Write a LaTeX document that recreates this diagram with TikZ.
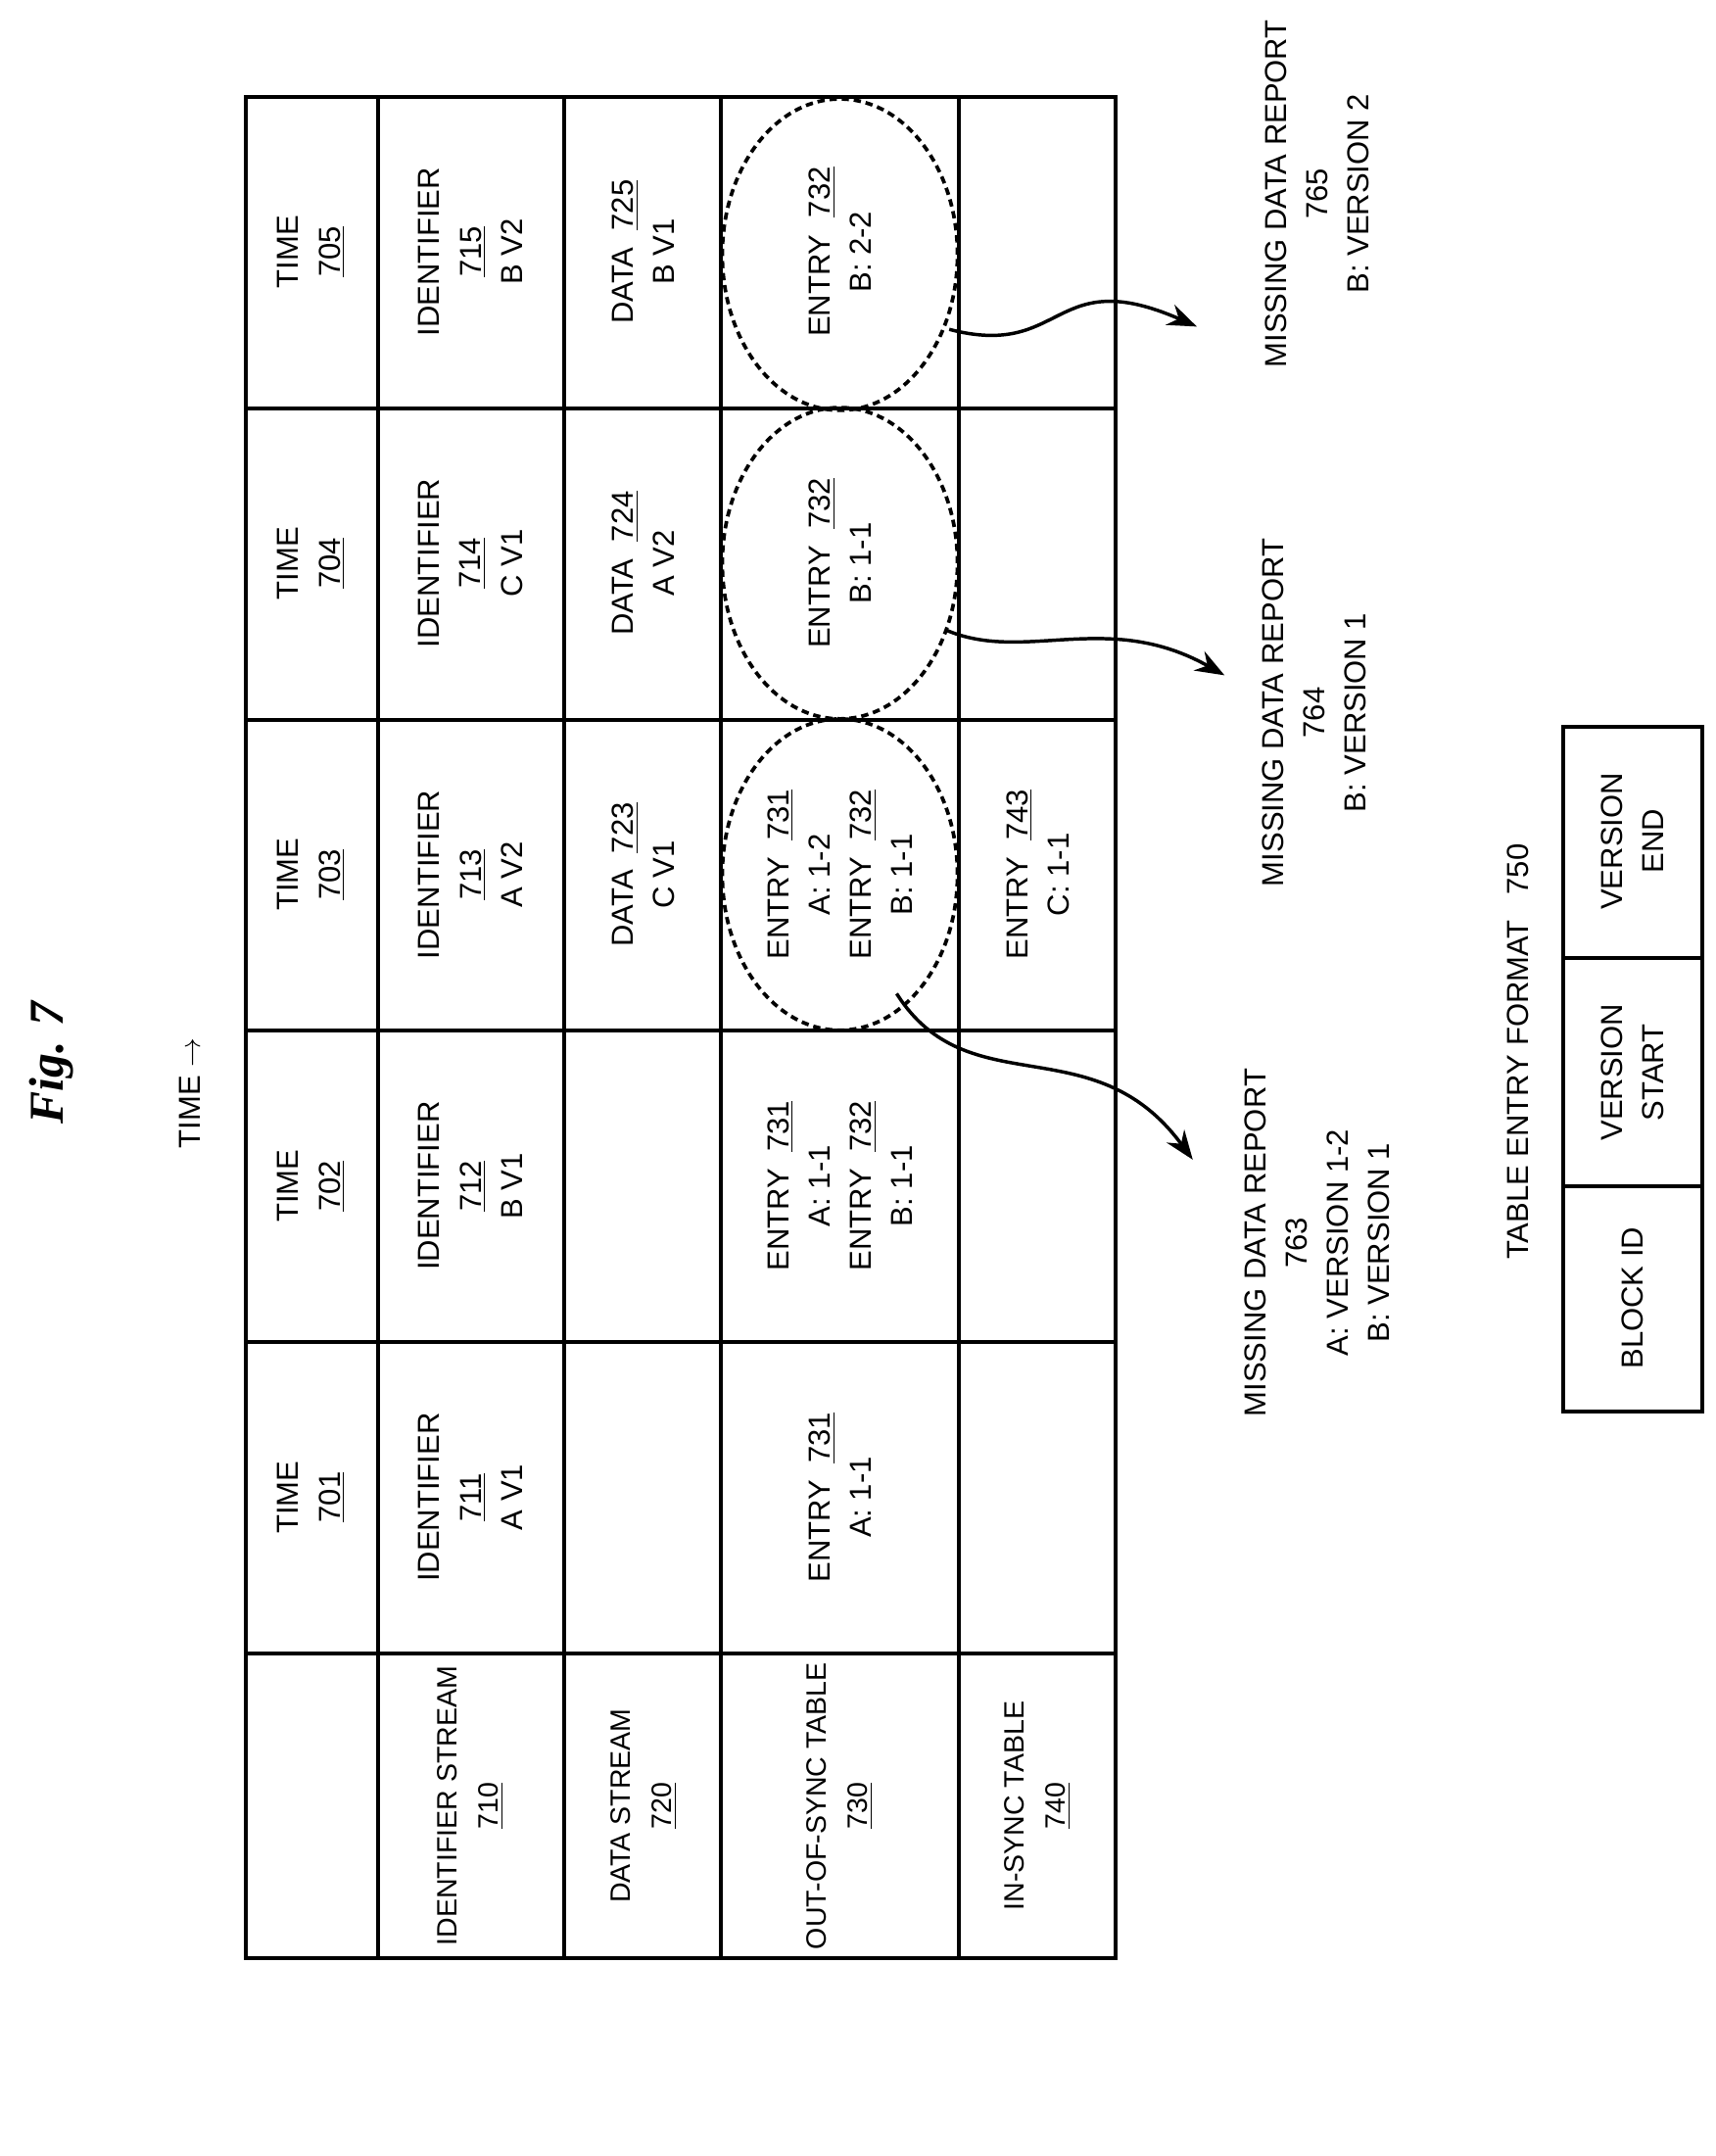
\documentclass[tikz,border=0pt]{standalone}
\usepackage{fontspec}
\setmainfont{Liberation Sans}
\newfontfamily\figfont{Liberation Serif}
\usetikzlibrary{arrows.meta,shapes.geometric}
\begin{document}
\begin{tikzpicture}[x=0.02cm,y=-0.02cm,
  t/.style={rotate=90,align=center,font=\fontsize{12.5}{17}\selectfont,inner sep=0pt},
  h/.style={t,font=\fontsize{11.5}{17}\selectfont},
  ln/.style={line width=1.6pt},
  el/.style={ellipse,draw,densely dashed,line width=1.5pt,minimum width=3.4cm,minimum height=4.5cm,inner sep=0pt},
  arr/.style={line width=1.4pt,-{Stealth[length=12pt,width=9pt]}}]
\useasboundingbox (0,0) rectangle (1240,1558);
% table
\draw[ln] (178,70) rectangle (806,1415);
\foreach \x in {273,408,521,693} \draw[ln] (\x,70) -- (\x,1415);
\foreach \y in {295,520,745,970,1195} \draw[ln] (178,\y) -- (806,\y);
% title
\node[rotate=90,font=\fontsize{20}{24}\selectfont\figfont\bfseries\itshape] (fig) at (37,768) {Fig. 7};
\node[t] (time) at (137,790) {TIME $\rightarrow$};
% time row
\node[t] (t5) at (225,182) {TIME\\\underline{705}};
\node[t] (t4) at (225,407) {TIME\\\underline{704}};
\node[t] (t3) at (225,632) {TIME\\\underline{703}};
\node[t] (t2) at (225,857) {TIME\\\underline{702}};
\node[t] (t1) at (225,1082) {TIME\\\underline{701}};
% identifier
\node[t] (i5) at (340,182) {IDENTIFIER\\\underline{715}\\B V2};
\node[t] (i4) at (340,407) {IDENTIFIER\\\underline{714}\\C V1};
\node[t] (i3) at (340,632) {IDENTIFIER\\\underline{713}\\A V2};
\node[t] (i2) at (340,857) {IDENTIFIER\\\underline{712}\\B V1};
\node[t] (i1) at (340,1082) {IDENTIFIER\\\underline{711}\\A V1};
\node[h] (ih) at (340,1305) {IDENTIFIER STREAM\\\underline{710}};
% data
\node[t] (d5) at (465,182) {DATA~~\underline{725}\\B V1};
\node[t] (d4) at (465,407) {DATA~~\underline{724}\\A V2};
\node[t] (d3) at (465,632) {DATA~~\underline{723}\\C V1};
\node[h] (dh) at (465,1305) {DATA STREAM\\\underline{720}};
% out of sync
\node[t] (o5) at (607,182) {ENTRY~~\underline{732}\\B: 2-2};
\node[t] (o4) at (607,407) {ENTRY~~\underline{732}\\B: 1-1};
\node[t] (o3) at (607,632) {ENTRY~~\underline{731}\\A: 1-2\\ENTRY~~\underline{732}\\B: 1-1};
\node[t] (o2) at (607,857) {ENTRY~~\underline{731}\\A: 1-1\\ENTRY~~\underline{732}\\B: 1-1};
\node[t] (o1) at (607,1082) {ENTRY~~\underline{731}\\A: 1-1};
\node[h] (oh) at (607,1305) {OUT-OF-SYNC TABLE\\\underline{730}};
% in sync
\node[t] (s3) at (750,632) {ENTRY~~\underline{743}\\C: 1-1};
\node[h] (sh) at (750,1305) {IN-SYNC TABLE\\\underline{740}};
% ellipses
\node[el] (e5) at (607,184) {};
\node[el] (e4) at (607,407) {};
\node[el] (e3) at (607,632) {};
% reports
\node[t] (r5) at (952,140) {MISSING DATA REPORT\\765\\B: VERSION 2};
\node[t] (r4) at (950,515) {MISSING DATA REPORT\\764\\B: VERSION 1};
\node[t] (r3) at (952,898) {MISSING DATA REPORT\\763\\A: VERSION 1-2\\B: VERSION 1};
\coordinate (a5) at (686,238);
\coordinate (a4) at (683,455);
\coordinate (a3) at (648,718);
\draw[arr] (a5) .. controls (770,260) and (760,190) .. (865,236);
\draw[arr] (a4) .. controls (740,480) and (800,440) .. (885,488);
\draw[arr] (a3) .. controls (700,800) and (790,740) .. (862,838);
% table entry format
\node[t] (tf) at (1097,760) {TABLE ENTRY FORMAT~~~750};
\draw[ln] (1130,525) rectangle (1230,1020);
\draw[ln] (1130,692) -- (1230,692);
\draw[ln] (1130,857) -- (1230,857);
\node[t] (ve) at (1180,608) {VERSION\\END};
\node[t] (vs) at (1180,775) {VERSION\\START};
\node[t] (bid) at (1180,938) {BLOCK ID};
\end{tikzpicture}
\end{document}
